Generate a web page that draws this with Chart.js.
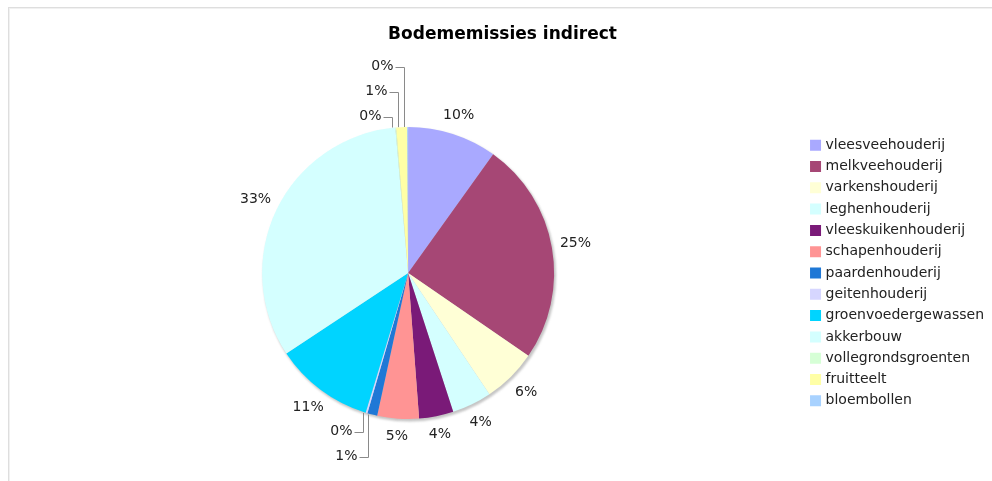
<!DOCTYPE html>
<html>
<head>
<meta charset="utf-8">
<script src="https://cdn.jsdelivr.net/npm/chart.js@4.4.0/dist/chart.umd.min.js"></script>
<style>
html,body{margin:0;padding:0;background:#fff;overflow:hidden;}
#wrap{position:relative;width:992px;height:481px;}
#frame{position:absolute;left:8px;top:7px;right:-2px;bottom:-2px;border-left:1px solid #dedede;border-top:1px solid #dedede;box-shadow:inset 1px 1px 0 #f1f1f1;}
canvas{position:absolute;left:0;top:0;}
</style>
</head>
<body>
<div id="wrap"><div id="frame"></div><canvas id="c" width="992" height="481" style="width:992px;height:481px"></canvas></div>
<script>
const chartTitle = 'Bodememissies indirect';
const categories = ['vleesveehouderij','melkveehouderij','varkenshouderij','leghenhouderij','vleeskuikenhouderij','schapenhouderij','paardenhouderij','geitenhouderij','groenvoedergewassen','akkerbouw','vollegrondsgroenten','fruitteelt','bloembollen'];
const values = [9.9, 24.7, 6.0, 4.4, 3.8, 4.6, 1.1, 0.2, 11.0, 32.9, 0.1, 1.2, 0.1];
const colors = ['#A9A9FF','#A64775','#FFFFD6','#D4FFFF','#7A1A78','#FF9494','#1F78D6','#D6D6FF','#00D4FF','#D4FFFF','#D6FFD6','#FFFFA6','#A8D2FF'];

const FONT = '"DejaVu Sans", Verdana, sans-serif';

const pieDecor = {
  id: 'pieDecor',
  beforeDatasetsDraw(chart) {
    const arc = chart.getDatasetMeta(0).data[0];
    if (!arc) return;
    const p = arc.getProps(['x','y','outerRadius'], true);
    const ctx = chart.ctx;
    ctx.save();
    ctx.fillStyle = 'rgba(150,150,150,0.55)';
    ctx.filter = 'blur(1px)';
    ctx.beginPath();
    ctx.arc(p.x + 1.5, p.y + 2, p.outerRadius + 0.5, 0, Math.PI * 2);
    ctx.fill();
    ctx.restore();
  },
  afterDatasetsDraw(chart) {
    const meta = chart.getDatasetMeta(0);
    const total = values.reduce((a, b) => a + b, 0);
    const ctx = chart.ctx;
    ctx.save();
    ctx.font = '14px ' + FONT;
    ctx.fillStyle = '#222';
    const small = [];
    meta.data.forEach((arc, i) => {
      const p = arc.getProps(['x','y','startAngle','endAngle','outerRadius'], true);
      const mid = (p.startAngle + p.endAngle) / 2;
      const pct = Math.round(values[i] / total * 100) + '%';
      if (values[i] / total < 0.02) {
        small.push({pct, ax: p.x + Math.cos(mid) * p.outerRadius, ay: p.y + Math.sin(mid) * p.outerRadius, top: Math.sin(mid) < 0, cy: p.y, r: p.outerRadius});
        return;
      }
      const lr = p.outerRadius + 17 + 7 * Math.abs(Math.cos(mid));
      ctx.textAlign = 'center';
      ctx.textBaseline = 'middle';
      ctx.fillText(pct, p.x + Math.cos(mid) * lr, p.y + Math.sin(mid) * lr);
    });
    ['top','bottom'].forEach(side => {
      const grp = small.filter(s => (side === 'top') === s.top).sort((a, b) => a.ax - b.ax);
      grp.forEach((s, k) => {
        const ly = side === 'top' ? s.cy - s.r - 10.5 - 25 * k : s.cy + s.r + 12.5 + 25 * k;
        const vx = Math.round(s.ax - 4) + 0.5;
        ctx.strokeStyle = '#8a8a8a';
        ctx.lineWidth = 1;
        ctx.beginPath();
        ctx.moveTo(vx - 9, Math.round(ly) + 0.5);
        ctx.lineTo(vx, Math.round(ly) + 0.5);
        ctx.lineTo(vx, s.ay);
        ctx.stroke();
        ctx.textAlign = 'right';
        ctx.textBaseline = 'middle';
        ctx.fillText(s.pct, vx - 11, ly);
      });
    });
    ctx.restore();
  }
};

new Chart(document.getElementById('c'), {
  type: 'pie',
  data: {
    labels: categories,
    datasets: [{
      data: values,
      backgroundColor: colors,
      borderWidth: 0,
      radius: 146
    }]
  },
  options: {
    responsive: false,
    animation: false,
    layout: { padding: { left: 11, right: -2, top: 0, bottom: 10 } },
    plugins: {
      title: {
        display: true,
        text: chartTitle,
        color: '#000',
        font: { family: FONT, size: 17, weight: 'bold' },
        padding: { top: 24.8, bottom: 29.8 }
      },
      legend: {
        position: 'right',
        align: 'center',
        fullSize: false,
        labels: {
          usePointStyle: true,
          pointStyle: 'rect',
          boxWidth: 6,
          boxHeight: 11,
          padding: 7.3,
          color: '#222',
          font: { family: FONT, size: 14 }
        }
      },
      tooltip: { enabled: false }
    }
  },
  plugins: [pieDecor]
});
</script>
</body>
</html>
